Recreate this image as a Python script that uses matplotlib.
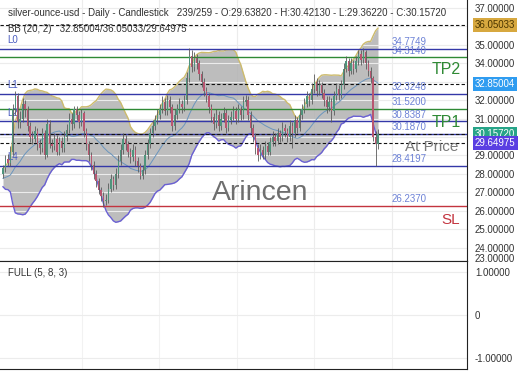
import numpy as np
import pandas as pd
import matplotlib
matplotlib.use("Agg")
import matplotlib.pyplot as plt

plt.rcParams['font.family'] = ['Liberation Sans', 'DejaVu Sans']

# closes before the first visible bar (only used to warm up the bands)
warmup_closes = [27.8, 27.5, 27.7, 27.4, 27.6, 27.9, 27.7, 27.5, 27.8, 27.6,
                 27.4, 27.7, 28.0, 27.8, 27.6, 27.9, 28.1, 27.8, 28.0]

first_open = 28.0
closes = [28.3, 28.8, 28.6, 29.2, 31.5, 32.2, 30.8, 31.0, 31.8, 31.5,
          30.6, 30.0, 29.9, 30.3, 29.6, 29.4, 30.2, 29.0, 30.7, 29.6,
          29.5, 29.9, 29.2, 29.8, 29.4, 30.0, 30.4, 31.0, 30.7, 31.5,
          31.2, 30.8, 31.3, 30.3, 29.6, 29.0, 28.5, 28.0, 27.6, 27.1,
          26.8, 26.5, 26.6, 27.2, 27.7, 27.4, 28.0, 28.7, 29.3, 29.9,
          29.6, 29.2, 28.9, 29.3, 28.7, 28.4, 27.9, 28.2, 29.0, 29.6,
          30.2, 30.6, 30.9, 31.2, 31.5, 31.9, 31.4, 32.0, 31.6, 30.6,
          31.2, 31.5, 31.8, 31.6, 32.0, 33.2, 34.4, 33.8, 34.3, 34.0,
          33.4, 33.0, 32.5, 32.2, 31.6, 31.1, 30.7, 31.2, 30.6, 31.0,
          31.3, 30.5, 30.9, 31.1, 31.4, 31.0, 31.5, 31.2, 31.9, 32.0,
          31.2, 30.5, 30.0, 29.4, 29.0, 29.3, 29.0, 29.5, 29.2, 29.7,
          30.0, 29.8, 30.2, 30.0, 30.5, 30.3, 30.0, 30.6, 30.2, 30.9,
          30.5, 31.2, 31.5, 31.8, 32.2, 32.0, 32.6, 33.0, 32.5, 32.8,
          32.4, 32.0, 31.6, 31.9, 31.4, 32.2, 32.6, 32.3, 32.8, 33.7,
          34.1, 33.6, 34.0, 33.7, 34.1, 34.5, 34.2, 34.6, 34.0, 33.6,
          33.2, 30.0, 29.6382, 30.1572]
highs = [28.5, 29.0, 29.1, 29.5, 31.8, 32.5, 32.4, 31.4, 32.1, 32.0,
         31.7, 30.8, 30.3, 30.6, 30.5, 29.9, 30.5, 30.4, 31.0, 30.9,
         29.9, 30.2, 30.1, 30.0, 30.0, 30.3, 30.7, 31.3, 31.3, 31.7,
         31.7, 31.4, 31.5, 31.4, 30.5, 29.8, 29.2, 28.7, 28.2, 27.8,
         27.3, 27.0, 26.9, 27.5, 28.0, 27.9, 28.3, 29.0, 29.6, 30.2,
         30.1, 29.8, 29.4, 29.6, 29.5, 28.9, 28.6, 28.5, 29.3, 29.9,
         30.5, 30.9, 31.2, 31.5, 31.8, 32.2, 32.1, 32.3, 32.2, 31.8,
         31.5, 31.8, 32.1, 32.0, 32.3, 33.5, 34.8, 34.7, 34.6, 34.5,
         34.2, 33.6, 33.2, 32.7, 32.4, 31.8, 31.3, 31.5, 31.4, 31.3,
         31.6, 31.5, 31.2, 31.4, 31.7, 31.6, 31.8, 31.7, 32.2, 32.3,
         32.2, 31.4, 30.7, 30.2, 29.6, 29.6, 29.5, 29.8, 29.7, 30.0,
         30.3, 30.2, 30.5, 30.4, 30.8, 30.7, 30.5, 30.9, 30.8, 31.2,
         31.1, 31.5, 31.8, 32.1, 32.5, 32.4, 32.9, 33.4, 33.2, 33.1,
         33.0, 32.6, 32.2, 32.2, 32.1, 32.5, 32.9, 32.8, 33.1, 34.0,
         34.4, 34.3, 34.3, 34.2, 34.4, 34.7, 34.7, 34.8, 34.7, 34.2,
         33.8, 33.3, 30.3, 30.4213]
lows = [27.8, 28.1, 28.4, 28.4, 29.0, 31.2, 30.5, 30.5, 30.8, 31.1,
        30.3, 29.7, 29.6, 29.7, 29.3, 29.1, 29.2, 28.8, 28.9, 29.4,
        29.2, 29.3, 29.0, 29.0, 29.2, 29.2, 29.8, 30.2, 30.4, 30.5,
        30.9, 30.5, 30.6, 30.0, 29.3, 28.7, 28.2, 27.7, 27.3, 26.9,
        26.5, 26.2, 26.3, 26.4, 27.0, 27.1, 27.2, 27.8, 28.5, 29.1,
        29.3, 28.9, 28.6, 28.7, 28.4, 28.1, 27.7, 27.7, 28.0, 28.8,
        29.4, 30.0, 30.4, 30.7, 31.0, 31.3, 31.2, 31.2, 31.3, 30.3,
        30.4, 31.0, 31.3, 31.3, 31.4, 31.8, 33.0, 33.5, 33.6, 33.7,
        33.1, 32.7, 32.2, 31.9, 31.3, 30.8, 30.4, 30.5, 30.3, 30.4,
        30.8, 30.2, 30.3, 30.7, 30.9, 30.7, 30.8, 30.9, 31.0, 31.7,
        30.9, 30.2, 29.7, 29.1, 28.7, 28.8, 28.8, 28.8, 29.0, 29.0,
        29.5, 29.5, 29.6, 29.7, 29.8, 30.0, 29.7, 29.8, 29.4, 30.0,
        30.2, 30.3, 31.0, 31.3, 31.6, 31.7, 31.8, 32.4, 32.2, 32.3,
        32.1, 31.7, 31.3, 31.4, 30.8, 31.2, 32.0, 32.0, 32.1, 32.6,
        33.5, 33.3, 33.4, 33.4, 33.5, 33.9, 33.9, 34.0, 33.7, 33.3,
        32.9, 29.8, 28.4197, 29.3622]

blue_levels = [34.7749, 32.3248, 30.8387, 30.1870, 28.4197]
green_levels = [34.3140, 31.5200]
red_levels = [26.2370]
left_names = {'L0': 34.7749, 'L1': 32.3248, 'L2': 30.8387, 'L4': 28.4197}
bb_values = [32.85004, 36.05033, 29.64975]   # middle / upper / lower
last_close = 30.15720
price_ticks = list(range(24, 38))
hidden_ticks = [36, 33, 30]   # covered by the value boxes in the reference
osc_ticks = [1, 0, -1]

n = len(closes)
opens = [first_open] + closes[:-1]
x = np.arange(n)

s = pd.Series(warmup_closes + closes)
k = len(warmup_closes)
mid = s.rolling(20).mean().values[k:]
sd = s.rolling(20).std(ddof=0).values[k:]
upper = mid + 2 * sd
lower = mid - 2 * sd

W, H = 520, 390
PW = 467        # panel right edge in px
fig = plt.figure(figsize=(W / 100, H / 100), dpi=100)
ax = fig.add_axes([0, 1 - 261 / H, PW / W, 261 / H])
ax2 = fig.add_axes([0, 1 - 369 / H, PW / W, 108 / H])

step = 375 / (n - 1)
xl = (-3 / step, n - 1 + (PW - 378) / step)
grid_x = [(p - 3) / step for p in [82, 159, 237, 314, 392]]

# main panel
ax.set_xlim(*xl)
ax.set_ylim(23.27, 37.43)
ax.set_yticks(price_ticks)
ax.set_yticklabels(['' if t in hidden_ticks else '%.5f' % t for t in price_ticks])
ax.yaxis.tick_right()
ax.tick_params(axis='y', length=0, pad=5.8, labelsize=7, labelcolor='#333333')
ax.set_xticks([])
ax.grid(axis='y', color='#ececec', lw=0.8, zorder=0)
for gx in grid_x:
    ax.axvline(gx, color='#ececec', lw=0.8, zorder=0)
for sp in ['left', 'top']:
    ax.spines[sp].set_visible(False)
ax.spines['right'].set_color('#222222')
ax.spines['bottom'].set_color('#222222')

ax.fill_between(x, lower, upper, color='#b2b2b2', alpha=0.85, lw=0, zorder=1)
ax.plot(x, upper, color='#cdbb6c', lw=1.0, zorder=2)
ax.plot(x, lower, color='#6a60d4', lw=1.0, zorder=2)
ax.plot(x, mid, color='#6a95bd', lw=0.7, zorder=2)

for lv in blue_levels:
    ax.axhline(lv, color='#3438a8', lw=1.0, zorder=2)
for lv in green_levels:
    ax.axhline(lv, color='#2f8a35', lw=1.0, zorder=2)
for lv in red_levels:
    ax.axhline(lv, color='#c3343f', lw=1.0, zorder=2)
for lv in [bb_values[1], bb_values[0], last_close, bb_values[2]]:
    ax.axhline(lv, color='#111111', lw=0.8, ls=(0, (3, 2)), zorder=2.5)

o = np.array(opens)
c = np.array(closes)
up = c >= o
cols = np.where(up, '#4f947c', '#b85670')
ax.vlines(x, lows, highs, colors='#5a5a5a', lw=0.6, zorder=3)
ax.bar(x, np.maximum(np.abs(c - o), 0.04), bottom=np.minimum(o, c), width=0.55,
       color=cols, lw=0, zorder=3)

ya = ax.get_yaxis_transform()
lab_col = '#6d82d6'
for lv in blue_levels + green_levels + red_levels:
    ax.text(392 / PW, lv + 0.1, '%.4f' % lv, transform=ya, fontsize=7,
            color=lab_col, va='bottom', ha='left', zorder=4)
for name, lv in left_names.items():
    ax.text(7 / PW, lv + 0.2, name, transform=ya, fontsize=7,
            color='#4a5cc0', va='bottom', ha='left', zorder=2.6)

ax.text(432 / PW, 33.64, 'TP2', transform=ya, fontsize=11.5, color='#2f8a35', va='center')
ax.text(432 / PW, 30.76, 'TP1', transform=ya, fontsize=11.5, color='#2f8a35', va='center')
ax.text(405 / PW, 29.46, 'At Price', transform=ya, fontsize=11, color='#7a7a7a', va='center')
ax.text(441 / PW, 25.5, 'SL', transform=ya, fontsize=11, color='#c3343f', va='center')
ax.text(260 / PW, 26.96, 'Arincen', transform=ya, fontsize=20.5, color='#6e6e6e',
        ha='center', va='center', zorder=4)

ax.text(8 / PW, 1 - 12.5 / 261,
        'silver-ounce-usd - Daily - Candlestick   239/259 - O:29.63820 - '
        'H:30.42130 - L:29.36220 - C:30.15720',
        transform=ax.transAxes, fontsize=7, color='#333333', va='center')
ax.text(8 / PW, 1 - 29.5 / 261,
        'BB (20, 2)   %.5f/%.5f/%.5f' % tuple(bb_values),
        transform=ax.transAxes, fontsize=7, color='#333333', va='center', zorder=4)

# value boxes on the price scale
boxes = [(bb_values[1], '#d7a83f', '#4a3500'), (bb_values[0], '#2f9cf0', 'white'),
         (last_close, '#27a488', 'white'), (bb_values[2], '#5a3fe2', 'white')]
for val, fc, tc in boxes:
    ax.text(1 + 8 / PW, val, '%.5f' % val, transform=ya, fontsize=7, color=tc,
            va='center', ha='left', clip_on=False, zorder=5,
            bbox=dict(boxstyle='square,pad=0.2', fc=fc, ec='none'))
ax.text(1 + 8 / PW, 2.5 / 261, '23.00000', transform=ax.transAxes, fontsize=7,
        color='#333333', va='center', ha='left', clip_on=False)

# lower oscillator panel
ax2.set_xlim(*xl)
ax2.set_ylim(-1.256, 1.256)
ax2.set_yticks(osc_ticks)
ax2.set_yticklabels(['1.00000', '0', '-1.00000'])
ax2.yaxis.tick_right()
ax2.tick_params(axis='y', length=0, pad=5.8, labelsize=7, labelcolor='#333333')
ax2.set_xticks([])
ax2.grid(axis='y', color='#ececec', lw=0.8)
for gx in grid_x:
    ax2.axvline(gx, color='#f2f2f2', lw=0.8, zorder=0)
ax2.spines['left'].set_visible(False)
for sp in ['top', 'right', 'bottom']:
    ax2.spines[sp].set_color('#222222')
ax2.text(8 / PW, 0.889, 'FULL (5, 8, 3)', transform=ax2.transAxes, fontsize=7,
         color='#333333', va='center')

fig.savefig('out.png', dpi=100)
